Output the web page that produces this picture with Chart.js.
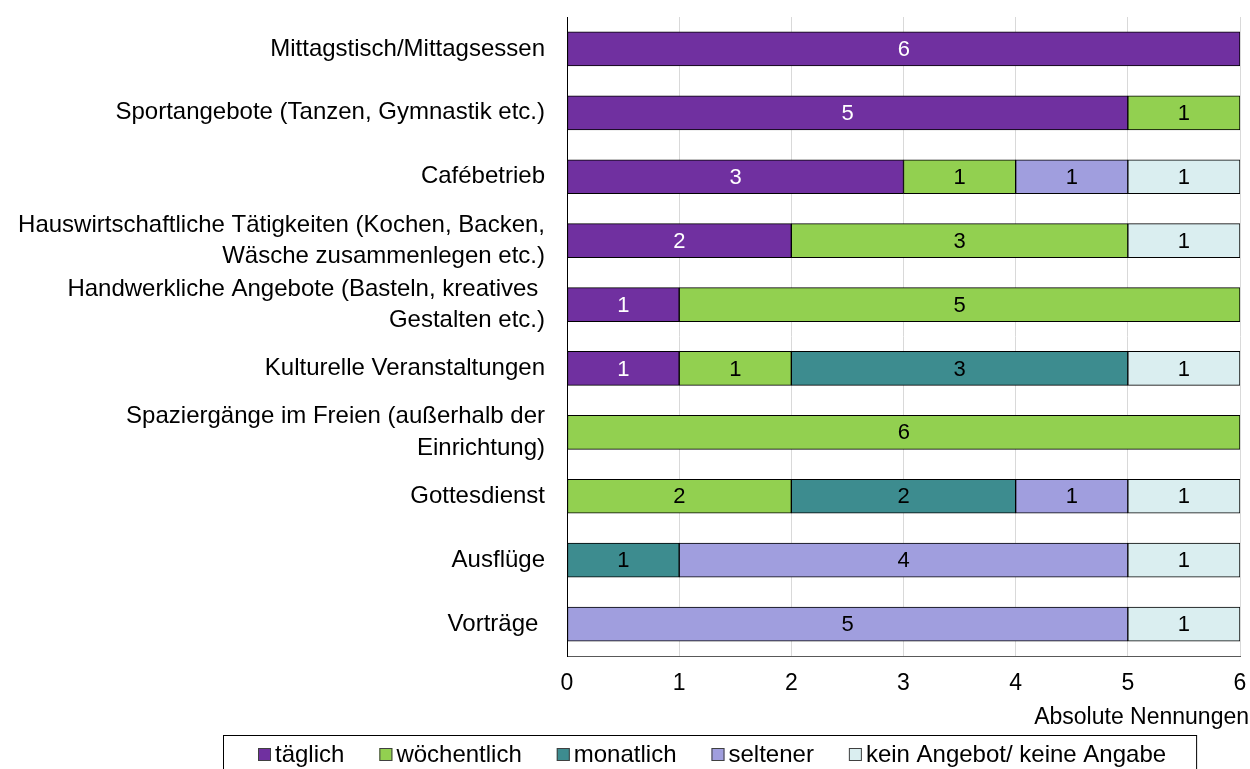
<!DOCTYPE html>
<html>
<head>
<meta charset="utf-8">
<script src="https://cdn.jsdelivr.net/npm/chart.js@4.4.0/dist/chart.umd.min.js"></script>
<style>
  html, body { margin: 0; padding: 0; background: #ffffff; }
  #wrap { width: 1250px; height: 769px; position: relative; }
</style>
</head>
<body>
<div id="wrap"><canvas id="chart" width="1250" height="769"></canvas></div>
<script>
// --- Data ---
const categories = [
    'Mittagstisch/Mittagsessen',
    'Sportangebote (Tanzen, Gymnastik etc.)',
    'Cafébetrieb',
    ['Hauswirtschaftliche Tätigkeiten (Kochen, Backen,', 'Wäsche zusammenlegen etc.)'],
    ['Handwerkliche Angebote (Basteln, kreatives ', 'Gestalten etc.)'],
    'Kulturelle Veranstaltungen',
    ['Spaziergänge im Freien (außerhalb der', 'Einrichtung)'],
    'Gottesdienst',
    'Ausflüge',
    'Vorträge '
];
const seriesNames = ['täglich', 'wöchentlich', 'monatlich', 'seltener', 'kein Angebot/ keine Angabe'];
const taeglich     = [6, 5, 3, 2, 1, 1, 0, 0, 0, 0];
const woechentlich = [0, 1, 1, 3, 5, 1, 6, 2, 0, 0];
const monatlich    = [0, 0, 0, 0, 0, 3, 0, 2, 1, 0];
const seltener     = [0, 0, 1, 0, 0, 0, 0, 1, 4, 5];
const keinAngebot  = [0, 0, 1, 1, 0, 1, 0, 1, 1, 1];
const xTicks = [0, 1, 2, 3, 4, 5, 6];
const xTitle = 'Absolute Nennungen';

const seriesColors = ['#7030A0', '#92D050', '#3D8C8F', '#A09EDE', '#DAEEF0'];
const labelColors = ['#ffffff', '#000000', '#000000', '#000000', '#000000'];
const FONT = "'Liberation Sans', Arial, sans-serif";

// zero values are left out so no empty bar edges are drawn
const clean = arr => arr.map(v => v === 0 ? null : v);

const datasets = [taeglich, woechentlich, monatlich, seltener, keinAngebot].map((vals, i) => ({
    label: seriesNames[i],
    data: clean(vals),
    backgroundColor: seriesColors[i],
    borderColor: '#000000',
    borderWidth: 1,
    borderSkipped: false,
    barThickness: 34
}));

// --- value labels inside the bars + axis title ---
const valueLabels = {
    id: 'valueLabels',
    afterDatasetsDraw(chart) {
        const ctx = chart.ctx;
        ctx.save();
        ctx.font = '22px ' + FONT;
        ctx.textAlign = 'center';
        ctx.textBaseline = 'middle';
        chart.data.datasets.forEach((ds, i) => {
            const meta = chart.getDatasetMeta(i);
            meta.data.forEach((bar, j) => {
                const v = ds.data[j];
                if (!v) return;
                ctx.fillStyle = labelColors[i];
                ctx.fillText(String(v), (bar.x + bar.base) / 2, bar.y + 1);
            });
        });
        // x axis title, right aligned just past the plot edge
        ctx.font = '23px ' + FONT;
        ctx.textAlign = 'right';
        ctx.fillStyle = '#000000';
        ctx.fillText(xTitle, chart.chartArea.right + 9, 718);
        ctx.restore();
    }
};

// --- boxed legend at the bottom ---
const boxedLegend = {
    id: 'boxedLegend',
    afterDraw(chart) {
        const ctx = chart.ctx;
        ctx.save();
        ctx.font = '24px ' + FONT;
        ctx.textBaseline = 'middle';
        const left = 223, top = 735, y = 755;
        let x = 258;
        let end = x;
        chart.data.datasets.forEach((ds, i) => {
            ctx.fillStyle = ds.backgroundColor;
            ctx.fillRect(x, y - 7, 13, 13);
            ctx.strokeStyle = '#404040';
            ctx.lineWidth = 1;
            ctx.strokeRect(x + 0.5, y - 6.5, 12, 12);
            ctx.fillStyle = '#000000';
            ctx.fillText(ds.label, x + 17, y);
            end = x + 17 + ctx.measureText(ds.label).width;
            x = end + 35;
        });
        const right = end + 30;
        ctx.strokeStyle = '#000000';
        ctx.lineWidth = 1;
        ctx.strokeRect(left + 0.5, top + 0.5, right - left, 50);
        ctx.restore();
    }
};

new Chart(document.getElementById('chart'), {
    type: 'bar',
    data: { labels: categories, datasets: datasets },
    options: {
        indexAxis: 'y',
        responsive: false,
        animation: false,
        layout: { padding: { top: 17, right: 0, bottom: 35, left: 0 } },
        plugins: {
            legend: { display: false },
            tooltip: { enabled: false }
        },
        scales: {
            x: {
                stacked: true,
                min: 0,
                max: 6,
                afterBuildTicks: scale => { scale.ticks = xTicks.map(v => ({ value: v })); },
                afterFit: scale => {
                    scale.height = 78;
                    scale.paddingLeft = 0;
                    scale.paddingRight = 10;
                },
                grid: { color: '#d9d9d9', lineWidth: 1, drawTicks: false },
                border: { display: true, color: '#595959', width: 1 },
                ticks: { padding: 14, color: '#000000', font: { family: FONT, size: 23 } },
                title: { display: false }
            },
            y: {
                stacked: true,
                afterFit: scale => {
                    scale.width = 567;
                    scale.paddingTop = 0;
                    scale.paddingBottom = 0;
                },
                grid: { display: false, drawTicks: false },
                border: { display: true, color: '#000000', width: 1 },
                ticks: {
                    padding: 22,
                    color: '#000000',
                    autoSkip: false,
                    font: { family: FONT, size: 24, lineHeight: 1.3 }
                }
            }
        }
    },
    plugins: [valueLabels, boxedLegend]
});
</script>
</body>
</html>
